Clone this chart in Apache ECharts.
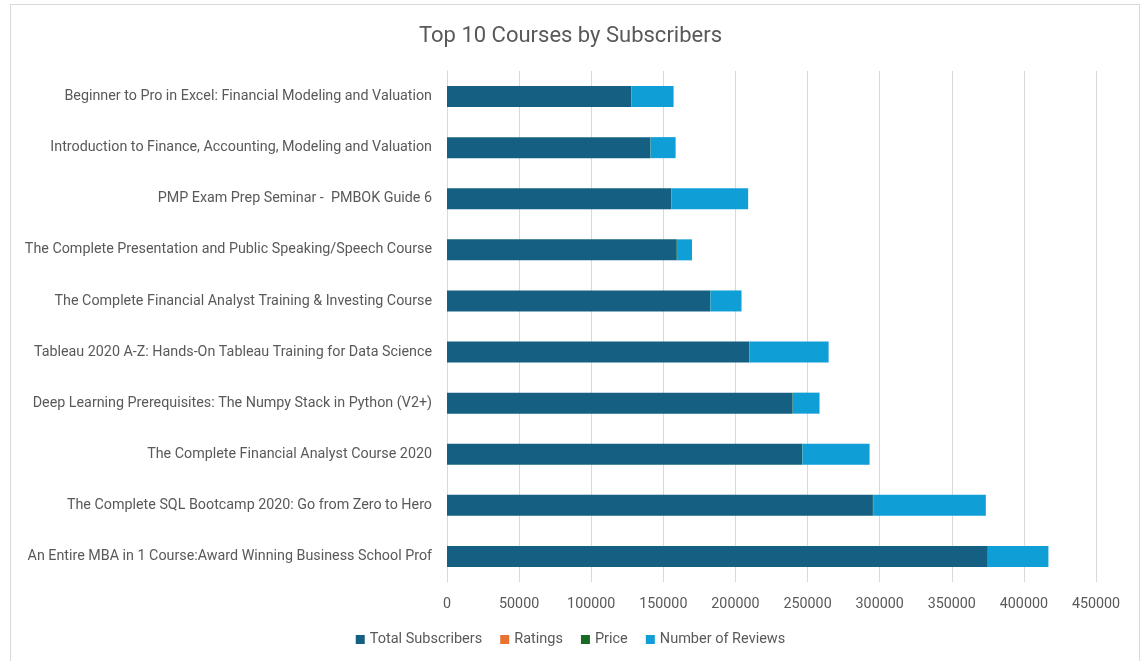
<!DOCTYPE html>
<html>
<head>
<meta charset="utf-8">
<script src="https://cdn.jsdelivr.net/npm/echarts@6/dist/echarts.min.js"></script>
<style>
  html, body { margin: 0; padding: 0; background: #fff; }
  #frame { position: absolute; left: 10px; top: 4px; width: 1128px; height: 680px; border: 1px solid #d9d9d9; }
  #main { position: absolute; left: 0; top: 0; width: 1141px; height: 661px; }
</style>
</head>
<body>
<div id="frame"></div>
<div id="main"></div>
<script>
// courses, bottom to top as drawn
const courses = [
    'An Entire MBA in 1 Course:Award Winning Business School Prof',
    'The Complete SQL Bootcamp 2020: Go from Zero to Hero',
    'The Complete Financial Analyst Course 2020',
    'Deep Learning Prerequisites: The Numpy Stack in Python (V2+)',
    'Tableau 2020 A-Z: Hands-On Tableau Training for Data Science',
    'The Complete Financial Analyst Training & Investing Course',
    'The Complete Presentation and Public Speaking/Speech Course',
    'PMP Exam Prep Seminar -  PMBOK Guide 6',
    'Introduction to Finance, Accounting, Modeling and Valuation',
    'Beginner to Pro in Excel: Financial Modeling and Valuation'
];
const totalSubscribers = [374900, 295300, 246300, 239600, 209500, 182400, 159300, 155500, 141000, 127800];
const ratings = [4.5, 4.6, 4.5, 4.6, 4.6, 4.5, 4.5, 4.6, 4.4, 4.5];
const price = [200, 200, 200, 200, 200, 200, 200, 200, 200, 200];
const numberOfReviews = [41900, 78100, 46500, 18500, 54900, 21600, 10400, 53100, 17300, 29100];

const textColor = '#595959';
const font = 'Roboto, "Noto Sans", sans-serif';

const chart = echarts.init(document.getElementById('main'));

const mkSeries = (name, data, color) => ({
    name: name,
    type: 'bar',
    stack: 'total',
    data: data,
    barWidth: 21,
    itemStyle: { color: color },
    emphasis: { disabled: true }
});

chart.setOption({
    animation: false,
    textStyle: { fontFamily: font },
    title: {
        text: 'Top 10 Courses by Subscribers',
        left: 'center',
        top: 20,
        textStyle: { fontSize: 22, fontWeight: 'normal', color: textColor, fontFamily: font }
    },
    legend: {
        data: ['Total Subscribers', 'Ratings', 'Price', 'Number of Reviews'],
        bottom: 9,
        left: 'center',
        icon: 'rect',
        itemWidth: 9,
        itemHeight: 9,
        itemGap: 18,
        selectedMode: false,
        textStyle: { fontSize: 14.5, color: textColor }
    },
    grid: {
        left: 447,
        right: 45,
        top: 71,
        bottom: 79,
        containLabel: false
    },
    xAxis: {
        type: 'value',
        min: 0,
        max: 450000,
        interval: 50000,
        axisLine: { show: false },
        axisTick: { show: false },
        axisLabel: { color: textColor, fontSize: 14.3, margin: 15, formatter: v => String(v) },
        splitLine: { lineStyle: { color: '#d9d9d9', width: 1 } }
    },
    yAxis: {
        type: 'category',
        data: courses,
        axisLine: { show: true, lineStyle: { color: '#d9d9d9' } },
        axisTick: { show: false },
        axisLabel: { color: textColor, fontSize: 14.3, margin: 15 }
    },
    series: [
        mkSeries('Total Subscribers', totalSubscribers, '#156082'),
        mkSeries('Ratings', ratings, '#E97132'),
        mkSeries('Price', price, '#196B24'),
        mkSeries('Number of Reviews', numberOfReviews, '#0F9ED5')
    ]
});
</script>
</body>
</html>
